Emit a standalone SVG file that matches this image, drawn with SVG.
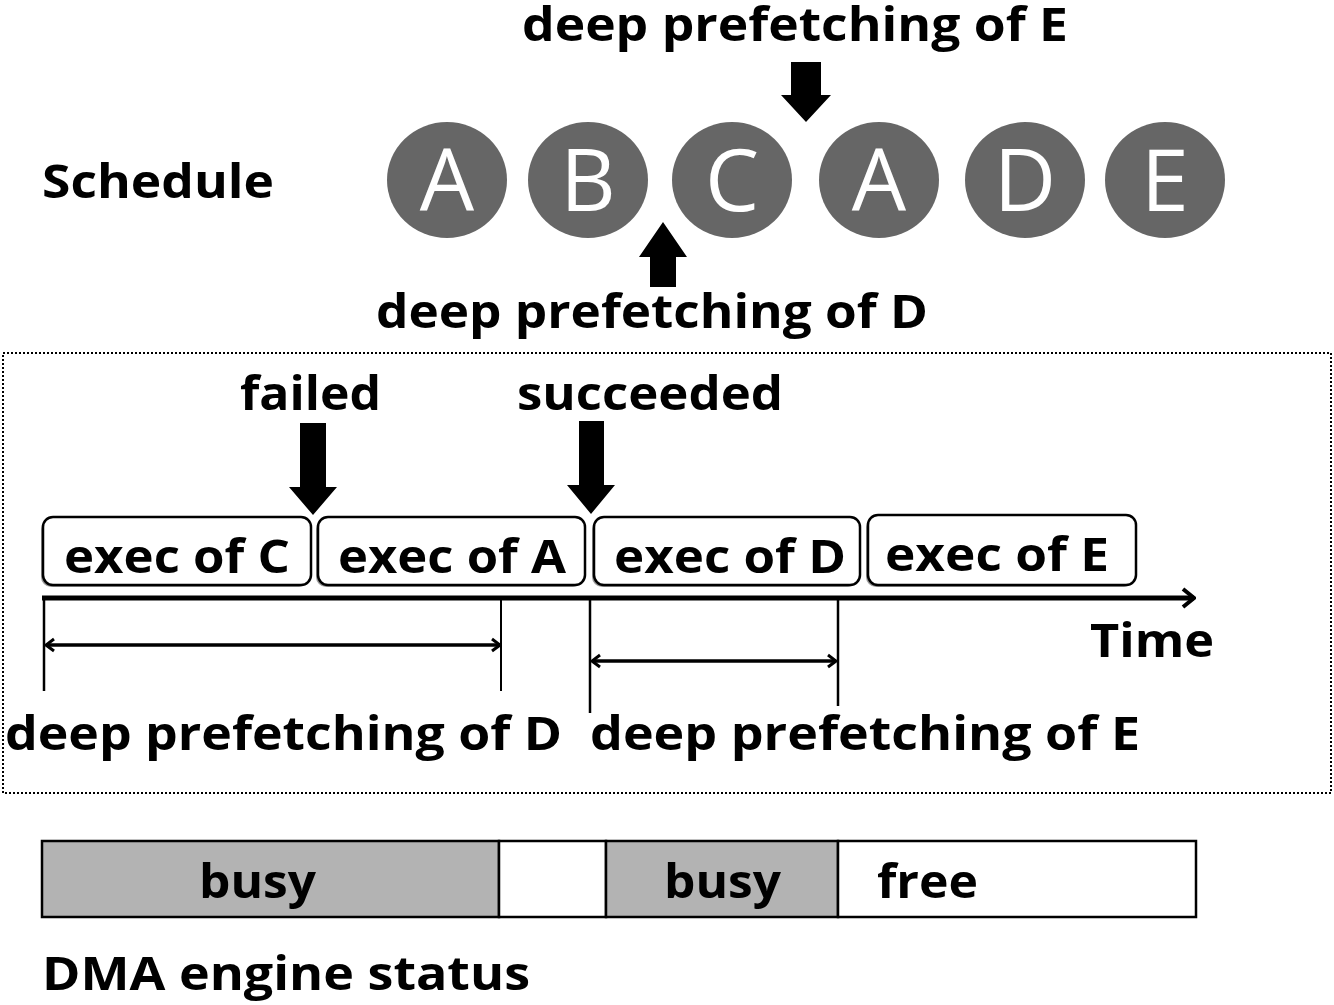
<svg xmlns="http://www.w3.org/2000/svg" width="1334" height="1005" viewBox="0 0 1334 1005">
<style>
.t{font-family:"Open Sans","Liberation Sans",sans-serif;font-weight:700;font-size:47px;fill:#000}
.n{fill:#666}
.nt{font-family:"Open Sans","Liberation Sans",sans-serif;font-weight:400;font-size:86px;fill:#fff;text-anchor:middle}
.ex{fill:#fff;stroke:#000;stroke-width:2.5}
.sh{fill:#999}
.ln{stroke:#000;fill:none}
.bar{stroke:#000;stroke-width:2.5}
</style>
<defs>
<marker id="ch" viewBox="0 0 12 16" refX="10" refY="8" markerWidth="12" markerHeight="16" markerUnits="userSpaceOnUse" orient="auto-start-reverse">
<path d="M2,2 L10,8 L2,14" fill="none" stroke="#000" stroke-width="3"/>
</marker>
<marker id="ch2" viewBox="0 0 16 24" refX="14" refY="12" markerWidth="16" markerHeight="24" markerUnits="userSpaceOnUse" orient="auto">
<path d="M3,3 L14,12 L3,21" fill="none" stroke="#000" stroke-width="4"/>
</marker>
</defs>
<rect width="1334" height="1005" fill="#fff"/>

<g id="schedule-label"><text class="t" x="42" y="198" textLength="232" lengthAdjust="spacingAndGlyphs">Schedule</text></g>

<g id="node-A1"><ellipse class="n" cx="447" cy="180" rx="60" ry="58"/><text class="nt" x="447" y="211">A</text></g>
<g id="node-B"><ellipse class="n" cx="588" cy="180" rx="60" ry="58"/><text class="nt" x="588" y="211">B</text></g>
<g id="node-C"><ellipse class="n" cx="732" cy="180" rx="60" ry="58"/><text class="nt" x="732" y="211">C</text></g>
<g id="node-A2"><ellipse class="n" cx="879" cy="180" rx="60" ry="58"/><text class="nt" x="879" y="211">A</text></g>
<g id="node-D"><ellipse class="n" cx="1025" cy="180" rx="60" ry="58"/><text class="nt" x="1025" y="211">D</text></g>
<g id="node-E"><ellipse class="n" cx="1165" cy="180" rx="60" ry="58"/><text class="nt" x="1165" y="211">E</text></g>

<g id="label-top-E"><text class="t" x="522" y="41" font-size="46" textLength="546" lengthAdjust="spacingAndGlyphs">deep prefetching of E</text></g>
<g id="label-mid-D"><text class="t" x="376" y="328" textLength="552" lengthAdjust="spacingAndGlyphs">deep prefetching of D</text></g>

<g id="frame"><rect x="3" y="353" width="1328" height="440" fill="none" stroke="#000" stroke-width="2" stroke-dasharray="2,2"/></g>

<g id="label-failed"><text class="t" x="240" y="410" textLength="141" lengthAdjust="spacingAndGlyphs">failed</text></g>
<g id="label-succeeded"><text class="t" x="517" y="410" textLength="266" lengthAdjust="spacingAndGlyphs">succeeded</text></g>

<g id="exec-C"><rect class="sh" x="41" y="519" width="268" height="68" rx="10"/><rect class="ex" x="43" y="517" width="268" height="68" rx="10"/><text class="t" x="64" y="573" textLength="226" lengthAdjust="spacingAndGlyphs">exec of C</text></g>
<g id="exec-A"><rect class="sh" x="316" y="519" width="267" height="68" rx="10"/><rect class="ex" x="318" y="517" width="267" height="68" rx="10"/><text class="t" x="338" y="573" textLength="228" lengthAdjust="spacingAndGlyphs">exec of A</text></g>
<g id="exec-D"><rect class="sh" x="592" y="519" width="266" height="68" rx="10"/><rect class="ex" x="594" y="517" width="266" height="68" rx="10"/><text class="t" x="614" y="573" textLength="232" lengthAdjust="spacingAndGlyphs">exec of D</text></g>
<g id="exec-E"><rect class="sh" x="866" y="517" width="268" height="70" rx="10"/><rect class="ex" x="868" y="515" width="268" height="70" rx="10"/><text class="t" x="885" y="571" textLength="224" lengthAdjust="spacingAndGlyphs">exec of E</text></g>

<g id="label-time"><text class="t" x="1090" y="657" textLength="124" lengthAdjust="spacingAndGlyphs">Time</text></g>
<g id="label-bot-D"><text class="t" x="5" y="750" textLength="557" lengthAdjust="spacingAndGlyphs">deep prefetching of D</text></g>
<g id="label-bot-E"><text class="t" x="590" y="750" textLength="550" lengthAdjust="spacingAndGlyphs">deep prefetching of E</text></g>

<g id="connectors">
<polygon points="791,62 821,62 821,95 831,95 806,122 781,95 791,95" fill="#000"/>
<polygon points="650,287 676,287 676,257 687,257 663,222 639,257 650,257" fill="#000"/>
<polygon points="300,423 326,423 326,487 337,487 313,515 289,487 300,487" fill="#000"/>
<polygon points="579,421 604,421 604,485 615,485 591,514 567,485 579,485" fill="#000"/>
<line class="ln" x1="42" y1="598" x2="1194" y2="598" stroke-width="5" marker-end="url(#ch2)"/>
<line class="ln" x1="44" y1="596" x2="44" y2="691" stroke-width="2.5"/>
<line class="ln" x1="501" y1="598" x2="501" y2="691" stroke-width="2"/>
<line class="ln" x1="590" y1="600" x2="590" y2="713" stroke-width="2.5"/>
<line class="ln" x1="838" y1="598" x2="838" y2="706" stroke-width="2.5"/>
<line class="ln" x1="46" y1="645" x2="500" y2="645" stroke-width="3.5" marker-start="url(#ch)" marker-end="url(#ch)"/>
<line class="ln" x1="592" y1="661" x2="836" y2="661" stroke-width="3.5" marker-start="url(#ch)" marker-end="url(#ch)"/>
</g>

<g id="dma-bar">
<rect class="bar" x="42" y="841" width="457" height="76" fill="#b3b3b3"/>
<rect class="bar" x="499" y="841" width="107" height="76" fill="#fff"/>
<rect class="bar" x="606" y="841" width="232" height="76" fill="#b3b3b3"/>
<rect class="bar" x="838" y="841" width="358" height="76" fill="#fff"/>
<text class="t" x="199" y="898" textLength="117" lengthAdjust="spacingAndGlyphs">busy</text>
<text class="t" x="664" y="898" textLength="117" lengthAdjust="spacingAndGlyphs">busy</text>
<text class="t" x="877" y="898" textLength="101" lengthAdjust="spacingAndGlyphs">free</text>
</g>
<g id="dma-label"><text class="t" x="42" y="990" textLength="488" lengthAdjust="spacingAndGlyphs">DMA engine status</text></g>
</svg>
